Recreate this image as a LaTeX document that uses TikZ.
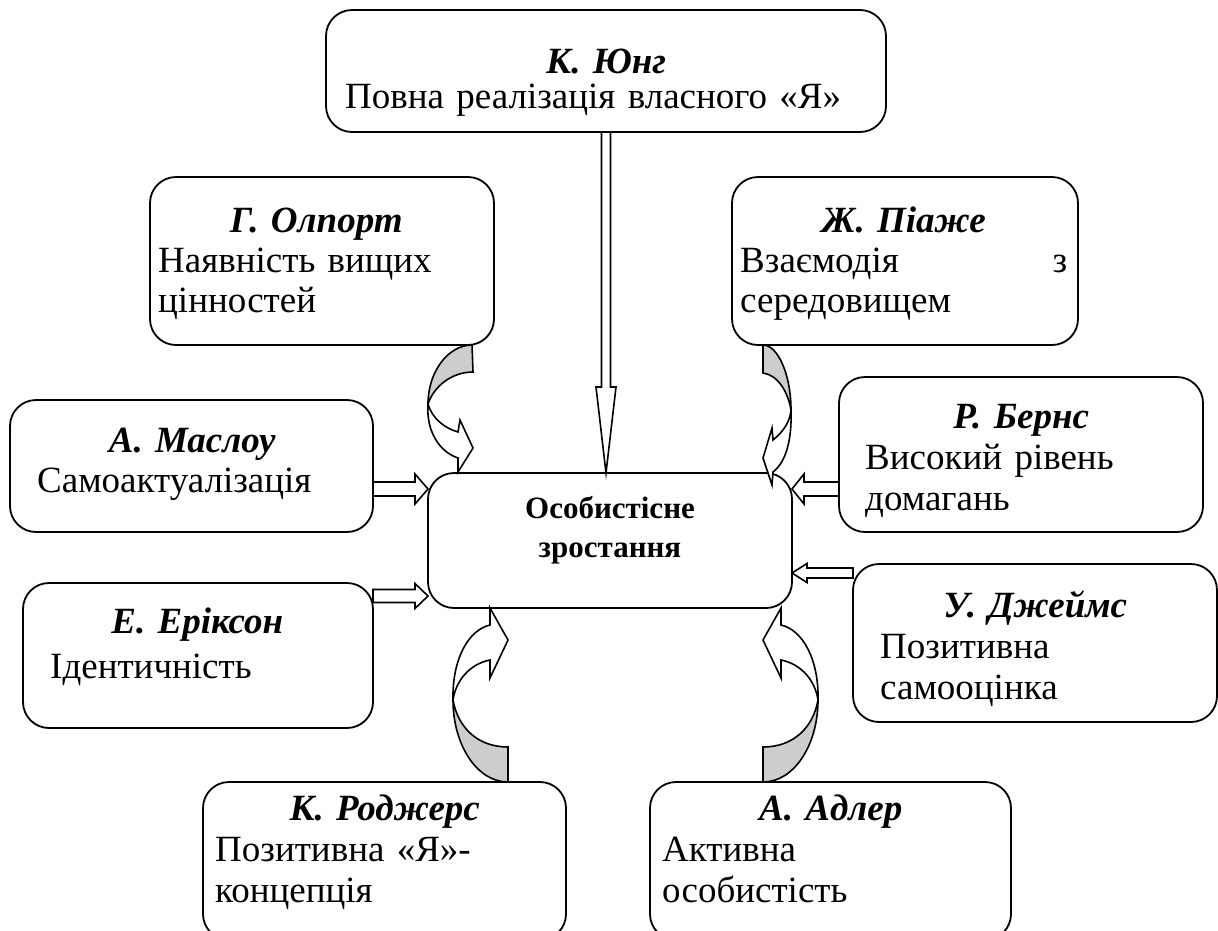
\documentclass[tikz,border=0pt]{standalone}
\usepackage{fontspec}
\setmainfont{Liberation Serif}
\usetikzlibrary{calc}
\definecolor{shade}{RGB}{205,205,205}
\newcommand{\blockarrow}[6][]{%
  \coordinate (ba-h) at ($(#3)!#6!(#2)$);
  \draw[barrow,#1] ($(#2)!#4!90:(#3)$) -- ($(ba-h)!#4!90:(#3)$) -- ($(ba-h)!#5!90:(#3)$) -- (#3)
    -- ($(ba-h)!#5!-90:(#3)$) -- ($(ba-h)!#4!-90:(#3)$) -- ($(#2)!#4!-90:(#3)$) -- cycle;
}
\begin{document}
\begin{tikzpicture}[x=1pt,y=-1pt,
  box/.style={draw, line width=1.8pt, rounded corners=26pt, fill=white, inner sep=0pt, outer sep=0pt},
  txt/.style={inner sep=0pt, anchor=base west, align=left, font=\fontsize{37}{40}\selectfont},
  barrow/.style={draw, line width=1.6pt, fill=white, line join=miter},
  cfront/.style={draw, line width=1.6pt, fill=white, line join=miter},
  cback/.style={draw, line width=1.6pt, fill=shade, line join=miter}]
\useasboundingbox (0,0) rectangle (1218,930);
\clip (0,0) rectangle (1218,930);

% boxes
\node[box, minimum width=560pt, minimum height=122pt] (jung) at (606,71) {};
\node[box, minimum width=344pt, minimum height=168pt] (olport) at (322,261) {};
\node[box, minimum width=346pt, minimum height=168pt] (piaget) at (905,261) {};
\node[box, minimum width=363pt, minimum height=132pt] (maslow) at (191.5,466) {};
\node[box, minimum width=350pt, minimum height=145pt] (erikson) at (198,655.5) {};
\node[box, minimum width=364pt, minimum height=155pt] (berns) at (1021,454.5) {};
\node[box, minimum width=364pt, minimum height=158pt] (james) at (1035,643) {};
\node[box, minimum width=364pt, minimum height=135pt] (core) at (610,540.5) {};
\node[box, minimum width=363pt, minimum height=158pt] (rogers) at (384.5,861) {};
\node[box, minimum width=361pt, minimum height=158pt] (adler) at (830.5,861) {};

% texts
\node[txt, text width=522pt, font=\fontsize{37}{35}\selectfont] (jung-t) at (345,73)
  {{\centering\bfseries\itshape К. Юнг\par}Повна реалізація власного «Я»};
\node[txt, text width=316pt] (olport-t) at (158,232)
  {{\centering\bfseries\itshape Г. Олпорт\par}Наявність вищих\\цінностей};
\node[txt, text width=327pt] (piaget-t) at (740,232)
  {{\centering\bfseries\itshape Ж. Піаже\par}Взаємодія\hfill з\\середовищем};
\node[txt, text width=344pt] (maslow-t) at (20,452)
  {{\centering\bfseries\itshape А. Маслоу\par}\hspace*{17pt}Самоактуалізація};
\node[txt, text width=328pt, font=\fontsize{37}{45}\selectfont] (erikson-t) at (33,633)
  {{\centering\bfseries\itshape Е. Еріксон\par}\hspace*{17pt}Ідентичність};
\node[txt, text width=312pt, font=\fontsize{37}{41}\selectfont] (berns-t) at (865,428)
  {{\centering\bfseries\itshape Р. Бернс\par}Високий рівень\\домагань};
\node[txt, text width=310pt, font=\fontsize{37}{41}\selectfont] (james-t) at (880,617)
  {{\centering\bfseries\itshape У. Джеймс\par}Позитивна\\самооцінка};
\node[txt, text width=339pt, font=\fontsize{37}{41}\selectfont] (rogers-t) at (215,820)
  {{\centering\bfseries\itshape К. Роджерс\par}Позитивна «Я»-\\концепція};
\node[txt, text width=337pt, font=\fontsize{37}{41}\selectfont] (adler-t) at (662,820)
  {{\centering\bfseries\itshape А. Адлер\par}Активна\\особистість};
\node[txt, anchor=base, align=center, text width=320pt, font=\fontsize{31}{39}\selectfont\bfseries] (core-t) at (610,518)
  {Особистісне\\зростання};

% straight block arrows
\coordinate (a-jung) at (jung.south);
\coordinate (b-jung) at (jung.south |- core.north);
\blockarrow{a-jung}{b-jung}{4.5pt}{10pt}{86pt}
\coordinate (a-maslow) at ([yshift=-23pt]maslow.east);
\coordinate (b-maslow) at (a-maslow -| core.west);
\blockarrow{a-maslow}{b-maslow}{7pt}{15pt}{13pt}
\coordinate (a-erik) at ([yshift=59.5pt]erikson.east);
\coordinate (b-erik) at (a-erik -| core.west);
\blockarrow{a-erik}{b-erik}{6.5pt}{12.5pt}{13pt}
\coordinate (a-berns) at ([yshift=-34.5pt]berns.west);
\coordinate (b-berns) at (a-berns -| core.east);
\blockarrow{a-berns}{b-berns}{7pt}{15pt}{12pt}
\coordinate (a-james) at ([yshift=70pt]james.west);
\coordinate (b-james) at (a-james -| core.east);
\blockarrow{a-james}{b-james}{5pt}{9.5pt}{15pt}

% curved arrows: Olport
\draw[cback] (472,345) .. controls (448,345) and (428,372) .. (428,404)
  .. controls (434,386) and (452,372) .. (473,372) -- cycle;
\draw[cfront] (428,404) .. controls (426,432) and (440,452) .. (458,458) -- (458,472) -- (473,448)
  -- (460,420) -- (458,432) .. controls (444,428) and (432,418) .. (428,404) -- cycle;
% Piaget
\draw[cback] (763,345) .. controls (778,345) and (791,375) .. (791,410)
  .. controls (788,392) and (778,375) .. (763,373) -- cycle;
\draw[cfront] (791,410) .. controls (792,440) and (786,462) .. (773,472) -- (772,485) -- (763,458)
  -- (772,428) -- (773,440) .. controls (783,432) and (790,422) .. (791,410) -- cycle;
% Rogers
\draw[cback] (453,700) .. controls (453,745) and (477,782) .. (508,782) -- (508,747)
  .. controls (478,747) and (458,728) .. (453,700) -- cycle;
\draw[cfront] (453,700) .. controls (452,660) and (468,630) .. (490,625) -- (490,608) -- (508,640)
  -- (490,678) -- (490,660) .. controls (470,664) and (456,680) .. (453,700) -- cycle;
% Adler
\draw[cback] (818,700) .. controls (818,745) and (794,782) .. (763,782) -- (763,747)
  .. controls (793,747) and (813,728) .. (818,700) -- cycle;
\draw[cfront] (818,700) .. controls (819,660) and (803,630) .. (781,625) -- (781,608) -- (763,640)
  -- (781,678) -- (781,660) .. controls (801,664) and (815,680) .. (818,700) -- cycle;
\end{tikzpicture}
\end{document}
